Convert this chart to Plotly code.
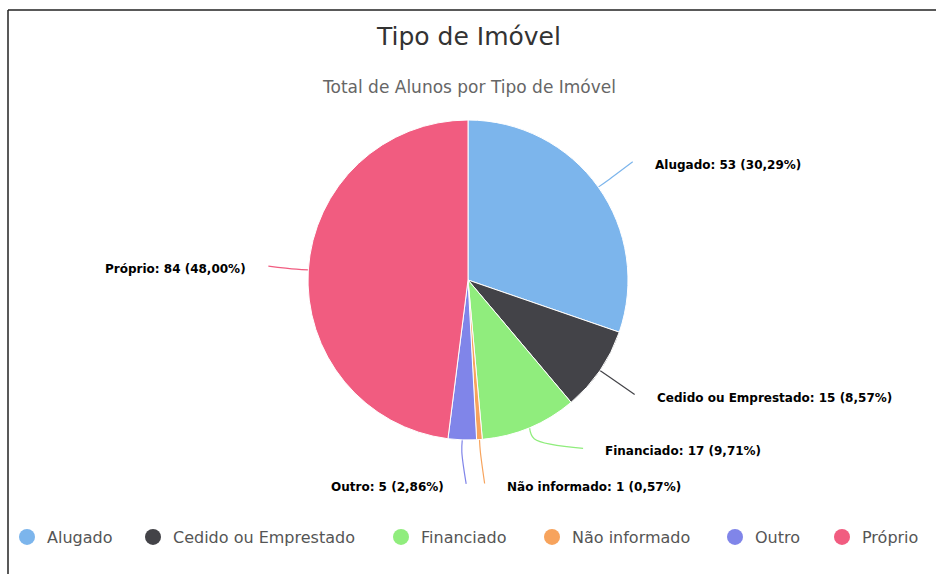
import math
import plotly.graph_objects as go

# data
categories = ["Alugado", "Cedido ou Emprestado", "Financiado", "Não informado", "Outro", "Próprio"]
values = [53, 15, 17, 1, 5, 84]
colors = ["#7cb5ec", "#434348", "#90ed7d", "#f7a35c", "#8085e9", "#f15c80"]

W, H = 938, 574
cx, cy, r = 468, 280, 160  # pie centre / radius in pixels
dist = 30

# nudges for labels that would collide near the bottom (pixels)
nudge = {
    "Alugado": (0, -5),
    "Cedido ou Emprestado": (0, 10),
    "Financiado": (32, -4),
    "Não informado": (-7, 17),
    "Outro": (15, 17),
    "Próprio": (0, 1),
}
# legend symbol centres (pixels)
legend_x = [27, 153, 401, 552, 735, 842]

total = sum(values)
fig = go.Figure()

fig.add_trace(go.Pie(
    labels=categories, values=values, sort=False, direction="clockwise", rotation=0,
    marker=dict(colors=colors, line=dict(color="white", width=1)),
    textinfo="none", hoverinfo="label+value+percent", showlegend=False,
    domain=dict(x=[(cx - r) / W, (cx + r) / W], y=[(H - cy - r) / H, (H - cy + r) / H]),
))

annotations = []
cum = 0
for name, v, col in zip(categories, values, colors):
    mid = math.radians((cum + v / 2) / total * 360)
    cum += v
    s, c = math.sin(mid), math.cos(mid)
    p0 = (cx + r * s, cy - r * c)
    p1 = (cx + (r + 12) * s, cy - (r + 12) * c)
    bx, by = cx + (r + dist) * s, cy - (r + dist) * c
    right = s >= 0
    ndx, ndy = nudge[name]
    lx = bx + (30 if right else -30) + ndx
    ly = by + ndy
    p2 = (lx + (-20 if right else 20), ly - 3)
    fig.add_trace(go.Scatter(
        x=[p0[0], p1[0], p2[0]], y=[p0[1], p1[1], p2[1]], mode="lines",
        line=dict(color=col, width=1.2, shape="spline"), showlegend=False, hoverinfo="skip",
    ))
    pct = f"{v / total * 100:.2f}".replace(".", ",")
    annotations.append(dict(
        x=lx, y=ly, xref="x", yref="y", text=f"<b>{name}: {v} ({pct}%)</b>",
        showarrow=False, xanchor="left" if right else "right", yanchor="middle",
        font=dict(family="DejaVu Sans", size=12, color="#000000"),
    ))

# legend entries with round markers, one legend per entry for spacing
legends = {}
for i, (name, col, lxp) in enumerate(zip(categories, colors, legend_x)):
    key = "legend" if i == 0 else f"legend{i + 1}"
    fig.add_trace(go.Scatter(
        x=[None], y=[None], mode="markers", name=name, legend=key,
        marker=dict(color=col, size=17, symbol="circle"),
    ))
    legends[key] = dict(
        x=(lxp - 20) / W, xanchor="left", y=1 - 537 / H, yanchor="middle",
        orientation="h", bgcolor="rgba(0,0,0,0)", borderwidth=0,
        font=dict(family="DejaVu Sans", size=16, color="#555555"),
    )

annotations.append(dict(
    x=0.5, y=1 - 75 / H, xref="paper", yref="paper", showarrow=False,
    text="Total de Alunos por Tipo de Imóvel",
    font=dict(family="DejaVu Sans", size=17, color="#666666"),
))

fig.update_layout(
    width=W, height=H,
    margin=dict(l=0, r=0, t=0, b=0),
    paper_bgcolor="white", plot_bgcolor="white",
    title=dict(text="Tipo de Imóvel", x=0.5, y=1 - 36 / H, xanchor="center", yanchor="middle",
               font=dict(family="DejaVu Sans", size=25, color="#333333")),
    xaxis=dict(range=[0, W], visible=False, fixedrange=True, domain=[0, 1]),
    yaxis=dict(range=[H, 0], visible=False, fixedrange=True, domain=[0, 1]),
    annotations=annotations,
    shapes=[
        dict(type="line", xref="x", yref="y", x0=8, x1=936, y0=10, y1=10, line=dict(color="#222222", width=1.5)),
        dict(type="line", xref="x", yref="y", x0=8, x1=8, y0=10, y1=H, line=dict(color="#222222", width=1.5)),
    ],
    **legends,
)

fig.write_html("out.html", config={"displayModeBar": False},
               post_script="document.body.style.margin='0px';")
